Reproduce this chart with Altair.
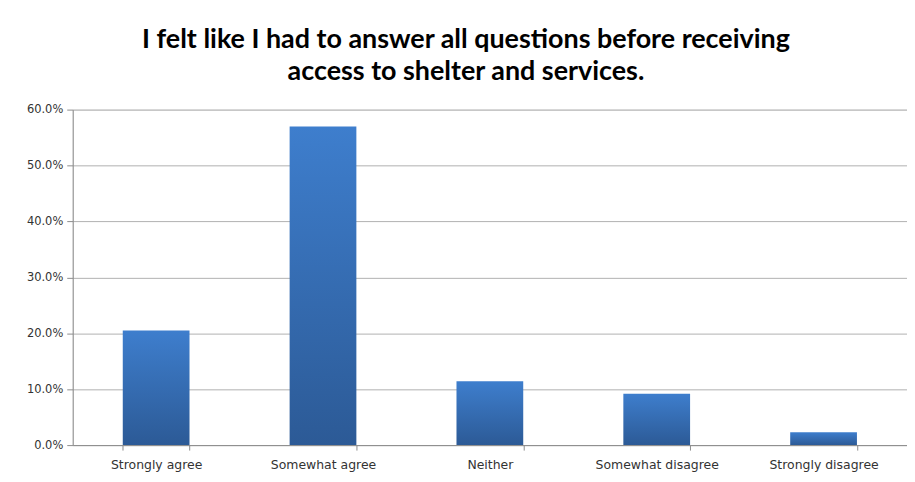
import altair as alt
import pandas as pd

categories = ["Strongly agree", "Somewhat agree", "Neither", "Somewhat disagree", "Strongly disagree"]
values = [0.205, 0.570, 0.114, 0.092, 0.023]
y_ticks = [0.0, 0.1, 0.2, 0.3, 0.4, 0.5, 0.6]

df = pd.DataFrame({"category": categories, "value": values})

grad = alt.Gradient(
    gradient="linear",
    stops=[alt.GradientStop(color="#3E7ECD", offset=0),
           alt.GradientStop(color="#2C5A96", offset=1)],
    x1=0, x2=0, y1=0, y2=1,
)

chart = alt.Chart(df).mark_bar(color=grad).encode(
    x=alt.X("category:N", sort=categories, title=None,
            scale=alt.Scale(paddingInner=0.6, paddingOuter=0.3),
            axis=alt.Axis(labelAngle=0, labelFont="DejaVu Sans", labelFontSize=12.5,
                          labelColor="#333333", tickBand="extent", tickSize=5,
                          tickColor="#8c8c8c", domainColor="#8c8c8c", labelPadding=9,
                          grid=False)),
    y=alt.Y("value:Q", title=None,
            scale=alt.Scale(domain=[0, 0.6]),
            axis=alt.Axis(values=y_ticks, format=".1%", labelFont="DejaVu Sans",
                          labelFontSize=11.5, labelColor="#333333", tickSize=6,
                          tickColor="#8c8c8c", domainColor="#8c8c8c", labelPadding=4,
                          gridColor="#b0b0b0", gridWidth=1)),
).properties(
    width=838, height=337,
    autosize="none",
    padding={"left": 65, "top": 101, "right": 0, "bottom": 35},
    title=alt.TitleParams(
        text=["I felt like I had to answer all questions before receiving",
              "access to shelter and services."],
        font="Lato", fontSize=27, fontWeight="bold", color="#000000",
        anchor="middle", dx=-24, offset=18, lineHeight=32,
    ),
).configure_view(stroke=None).configure(background="white")

chart.save("out.html", embed_options={"renderer": "svg", "actions": False})
